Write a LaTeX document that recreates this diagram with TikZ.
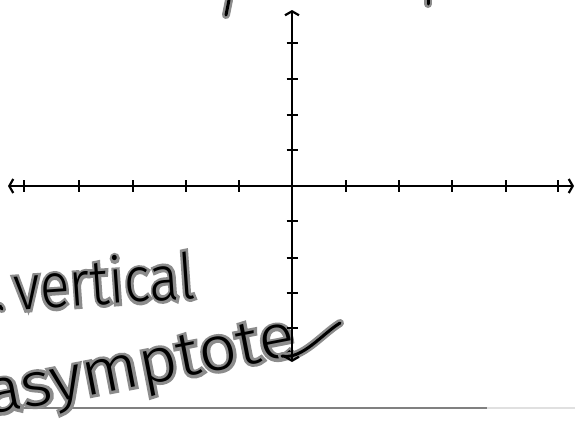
\documentclass[tikz,border=0pt]{standalone}
\usepackage{fontspec}
\usepackage{graphicx}
\usetikzlibrary{arrows.meta}
\newfontfamily\hcore{Fira Sans Light}
\newfontfamily\hhalo{Fira Sans Light}[FakeBold=9]
\definecolor{halogray}{HTML}{8C8C8C}
\newcommand\handtext[1]{\makebox[0pt][l]{\color{halogray}\hhalo #1}{\color{black}\hcore #1}}
\begin{document}
\begin{tikzpicture}[x=1pt,y=-1pt,
  axisline/.style={line width=2.2pt, draw=black},
  bothtips/.style={{Straight Barb[length=4pt,width=14pt]}-{Straight Barb[length=4pt,width=14pt]}},
  tickline/.style={line width=2pt, draw=black},
  handword/.style={inner sep=0pt, font=\fontsize{52}{60}\selectfont},
  halostroke/.style={line width=8pt, draw=halogray, line cap=round, line join=round},
  corestroke/.style={line width=3pt, draw=black, line cap=round, line join=round}]
\useasboundingbox (0,0) rectangle (575,439);
\fill[white] (0,0) rectangle (575,439);
% baseline of the page
\coordinate (ga) at (0,408);
\coordinate (gb) at (487,408);
\coordinate (gc) at (575,408);
\draw[line width=1.4pt, draw=black!50] (ga) -- (gb);
\draw[line width=1.4pt, draw=black!12] (gb) -- (gc);
% handwritten words
\node[handword, anchor=base east, rotate=4] (vert) at (196,298) {\scalebox{1.07}[1.22]{\handtext{vertical}}};
\node[handword, anchor=base east, rotate=11] (asym) at (298,355) {\scalebox{1.3}[1.2]{\handtext{asymptote}}};
% tail of the e
\coordinate (ta) at (282,356);
\coordinate (tb) at (340,323);
\draw[halostroke] (ta) .. controls (302,360) and (322,334) .. (tb);
\draw[corestroke] (ta) .. controls (302,360) and (322,334) .. (tb);
% fragments of writing cut off at the edges
\coordinate (fa) at (229,0);
\coordinate (fb) at (226,15);
\coordinate (fc) at (428,0);
\coordinate (fd) at (428,4);
\coordinate (fe) at (0,306);
\coordinate (ff) at (2,309);
\foreach \p/\q in {fa/fb, fc/fd, fe/ff} {
  \draw[halostroke] (\p) -- (\q);
  \draw[corestroke] (\p) -- (\q);
}
% axes
\coordinate (xl) at (8,186);
\coordinate (xr) at (574,186);
\coordinate (yt) at (292,10);
\coordinate (yb) at (292,362);
\draw[axisline, bothtips] (xl) -- (xr);
\draw[axisline, bothtips] (yb) -- (yt);
\foreach \x in {24,79,133,186,239,346,399,452,506,558} {
  \draw[tickline] (\x,180) -- (\x,192);
}
\foreach \y in {43,79,115,150,221,258,293,328} {
  \draw[tickline] (286.5,\y) -- (297.5,\y);
}
\end{tikzpicture}
\end{document}
